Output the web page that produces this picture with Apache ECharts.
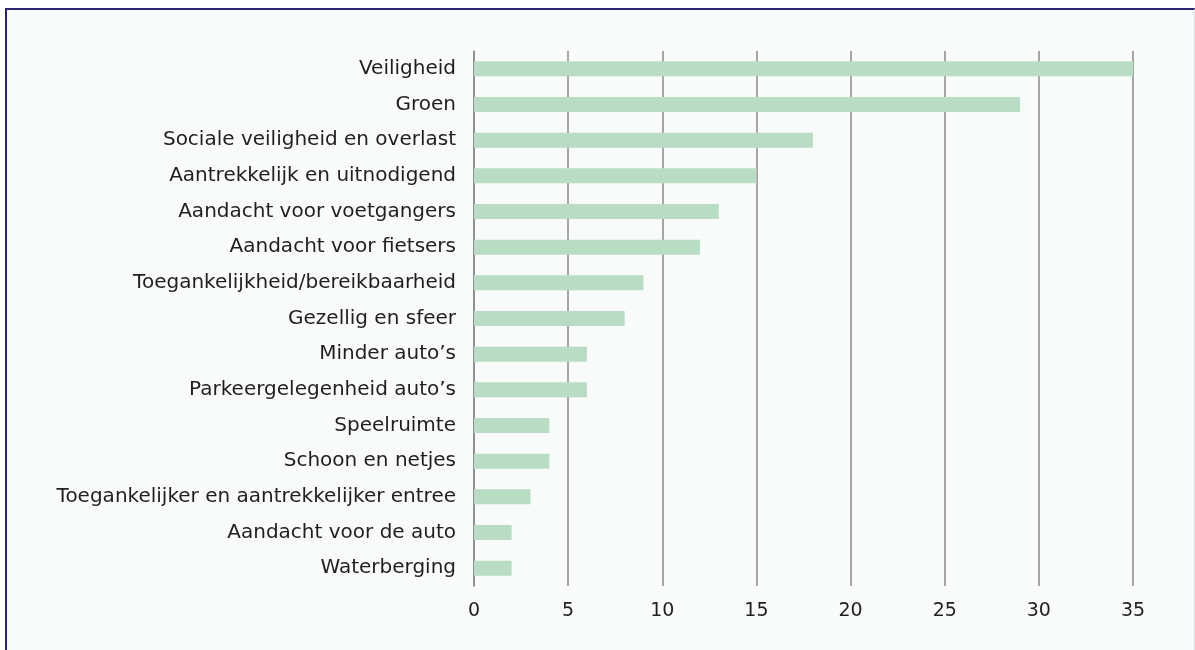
<!DOCTYPE html>
<html>
<head>
<meta charset="utf-8">
<script src="https://cdn.jsdelivr.net/npm/echarts@6/dist/echarts.min.js"></script>
<style>
html,body{margin:0;padding:0;background:#ffffff;width:1195px;height:650px;overflow:hidden;}
#frame{position:absolute;left:5px;top:8px;width:1187px;height:660px;background:#f9fafa;border-left:2px solid #2e2470;border-top:2px solid #2e2470;border-right:1px solid #dcdde3;}
#chart{position:absolute;left:0;top:0;width:1195px;height:650px;}
</style>
</head>
<body>
<div id="frame"></div>
<div id="chart"></div>
<script>
const categories = [
  "Veiligheid",
  "Groen",
  "Sociale veiligheid en overlast",
  "Aantrekkelijk en uitnodigend",
  "Aandacht voor voetgangers",
  "Aandacht voor fietsers",
  "Toegankelijkheid/bereikbaarheid",
  "Gezellig en sfeer",
  "Minder auto’s",
  "Parkeergelegenheid auto’s",
  "Speelruimte",
  "Schoon en netjes",
  "Toegankelijker en aantrekkelijker entree",
  "Aandacht voor de auto",
  "Waterberging"
];
const values = [35, 29, 18, 15, 13, 12, 9, 8, 6, 6, 4, 4, 3, 2, 2];
const xTicks = [0, 5, 10, 15, 20, 25, 30, 35];

const chart = echarts.init(document.getElementById('chart'), null, {renderer: 'canvas'});
const font = "'DejaVu Sans', sans-serif";
chart.setOption({
  animation: false,
  backgroundColor: 'transparent',
  grid: {left: 474, right: 62, top: 51, bottom: 64, containLabel: false},
  xAxis: {
    type: 'value',
    min: xTicks[0],
    max: xTicks[xTicks.length - 1],
    interval: 5,
    axisLine: {show: false},
    axisTick: {show: false},
    splitLine: {show: true, lineStyle: {color: '#8a8a8a', width: 1.5}},
    axisLabel: {color: '#1f1f1f', fontSize: 19, fontFamily: font, margin: 16}
  },
  yAxis: {
    type: 'category',
    inverse: true,
    data: categories,
    axisLine: {show: true, lineStyle: {color: '#8a8a8a', width: 1.5}},
    axisTick: {show: false},
    axisLabel: {color: '#1f1f1f', fontSize: 20, fontFamily: font, margin: 18, lineHeight: 20, padding: [6, 0, 0, 0]}
  },
  series: [{
    type: 'bar',
    data: values,
    barWidth: 15,
    itemStyle: {color: '#b9dcc4'},
    z: 1
  }]
});
</script>
</body>
</html>
